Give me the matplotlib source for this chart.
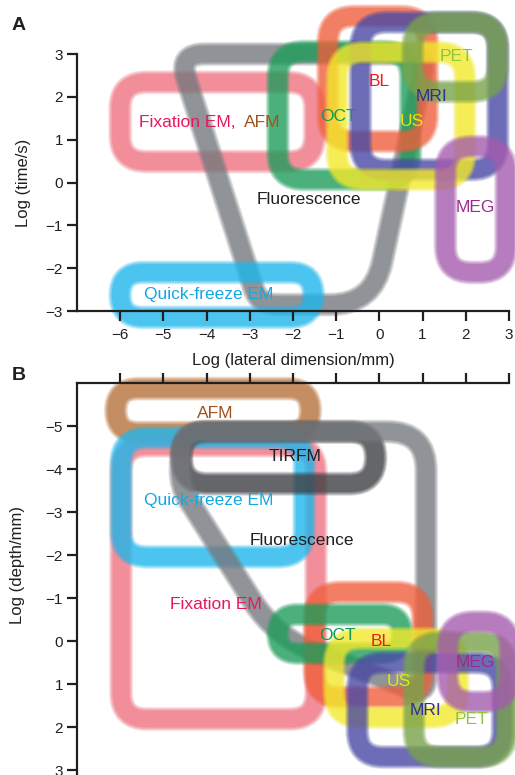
import matplotlib.pyplot as plt
from matplotlib.path import Path
from matplotlib.patches import PathPatch
import numpy as np

plt.rcParams['font.family'] = ['Liberation Sans', 'DejaVu Sans']
plt.rcParams['axes.unicode_minus'] = True

# ---- Panel A: log lateral dimension (mm) vs log time (s)
a_names = ['Fixation EM', 'Quick-freeze EM', 'OCT', 'BL', 'MRI', 'US', 'PET', 'MEG']
a_x0 = [-6.0, -6.0, -2.35, -1.19, -0.44, -0.98, 0.77, 1.53]
a_x1 = [-1.5, -1.53, 0.72, 1.11, 2.74, 1.98, 2.74, 2.93]
a_y0 = [0.49, -3.15, 0.07, 0.96, 0.30, 0.07, 2.12, -2.10]
a_y1 = [2.34, -2.10, 3.06, 3.88, 3.74, 3.04, 3.74, 0.84]

# fluorescence outline in panel A (corner points)
fl_a_x = [-4.65, 1.1, -0.15, -2.79]
fl_a_y = [3.0, 3.0, -2.85, -2.85]

# ---- Panel B: log lateral dimension (mm) vs log depth (mm)
b_names = ['AFM', 'Fixation EM', 'Quick-freeze EM', 'TIRFM', 'BL', 'OCT', 'US', 'MRI', 'PET', 'MEG']
b_x0 = [-6.1, -5.98, -5.98, -4.58, -1.51, -2.35, -1.05, -0.51, 0.80, 1.58]
b_x1 = [-1.6, -1.47, -1.74, -0.09, 1.00, 0.52, 1.82, 2.85, 2.95, 3.02]
b_y0 = [-5.87, -4.54, -4.73, -4.87, -1.14, -0.62, -0.06, 0.50, 0.02, -0.45]
b_y1 = [-4.85, 1.81, -1.96, -3.66, 1.30, 0.28, 1.77, 2.69, 2.69, 1.41]

fl_b_x = [-4.58, 1.08, 1.08, -2.41, -4.62]
fl_b_y = [-4.87, -4.87, 1.25, -0.10, -3.60]

# label positions (data units)
a_lab = {'Fixation EM,': (-5.56, 1.40), 'AFM': (-2.28, 1.40), 'BL': (0.0, 2.36),
         'PET': (1.79, 2.94), 'MRI': (1.21, 2.0), 'OCT': (-0.95, 1.54), 'US': (0.74, 1.43),
         'Fluorescence': (-1.63, -0.40), 'MEG': (2.21, -0.58), 'Quick-freeze EM': (-3.95, -2.62)}
b_lab = {'AFM': (-3.81, -5.29), 'TIRFM': (-1.95, -4.29), 'Quick-freeze EM': (-3.95, -3.26),
         'Fluorescence': (-1.79, -2.33), 'Fixation EM': (-3.79, -0.85), 'OCT': (-0.98, -0.13),
         'BL': (0.05, 0.0), 'US': (0.44, 0.94), 'MEG': (2.21, 0.5), 'MRI': (1.07, 1.6),
         'PET': (2.14, 1.83)}

stroke = {'Fixation EM': '#ef7482', 'AFM': '#b8733b', 'Quick-freeze EM': '#1fb8ec',
          'Fluorescence': '#76797e', 'TIRFM': '#3f4145', 'OCT': '#1f9e5c', 'BL': '#f0603c',
          'MRI': '#4a4aa6', 'US': '#f4ea2c', 'PET': '#7aa44c', 'MEG': '#a65cae'}
text_col = {'Fixation EM,': '#e8175d', 'Fixation EM': '#e8175d', 'AFM': '#a0521d',
            'Quick-freeze EM': '#12a9e2', 'Fluorescence': '#231f20', 'TIRFM': '#231f20',
            'OCT': '#12994f', 'BL': '#ec1c24', 'MRI': '#2e3192', 'US': '#ede500',
            'PET': '#8dc63f', 'MEG': '#9e2a8e'}


def rounded_path(xs, ys, rs):
    pts = np.column_stack([xs, ys]).astype(float)
    n = len(pts)
    verts, codes = [], []
    for i in range(n):
        v, p, q = pts[i], pts[i - 1], pts[(i + 1) % n]
        dp, dq = p - v, q - v
        lp, lq = np.hypot(*dp), np.hypot(*dq)
        r = min(rs[i], 0.5 * lp, 0.5 * lq)
        a = v + r * dp / lp
        b = v + r * dq / lq
        verts += [a, v, b]
        codes += [Path.MOVETO if i == 0 else Path.LINETO, Path.CURVE3, Path.CURVE3]
    verts += [verts[0], verts[0]]
    codes += [Path.LINETO, Path.CLOSEPOLY]
    return Path(verts, codes)


# soft edged thick stroke: a few widening layers of low alpha around a solid core
blur = [(17.5, 0.14), (16.5, 0.16), (15.5, 0.18), (14.5, 0.2), (13.5, 0.22), (12, 0.45)]


def draw(ax, xs, ys, rs, color):
    path = rounded_path(xs, ys, rs)
    for lw, al in blur:
        ax.add_patch(PathPatch(path, facecolor='none', edgecolor=color, lw=lw,
                               alpha=al, clip_on=False, joinstyle='round'))


def draw_box(ax, x0, x1, y0, y1, color):
    r = min(0.6, 0.5 * abs(x1 - x0), 0.5 * abs(y1 - y0))
    draw(ax, [x0, x1, x1, x0], [y0, y0, y1, y1], [r] * 4, color)


def style(ax):
    for s in ax.spines.values():
        s.set_linewidth(1.6)
        s.set_color('#231f20')
    ax.tick_params(direction='out', length=7, width=1.6, color='#231f20',
                   labelcolor='#231f20', labelsize=11, pad=3)


fig = plt.figure(figsize=(5.15, 7.75), dpi=100)

# ---------- A
ax = fig.add_axes([77 / 515, 1 - 311 / 775, 432 / 515, 257 / 775])
ax.set_xlim(-7.0, 3.0)
ax.set_ylim(-3, 3)
order_a = ['Fixation EM', 'Fluorescence', 'Quick-freeze EM', 'OCT', 'BL', 'MRI', 'US', 'PET', 'MEG']
for nm in order_a:
    if nm == 'Fluorescence':
        draw(ax, fl_a_x, fl_a_y, [0.6, 0.5, 1.0, 0.4], stroke[nm])
    else:
        i = a_names.index(nm)
        draw_box(ax, a_x0[i], a_x1[i], a_y0[i], a_y1[i], stroke[nm])
for t, (x, y) in a_lab.items():
    ha = 'left' if t == 'Fixation EM,' else ('right' if t == 'AFM' else 'center')
    ax.text(x, y, t, color=text_col[t], fontsize=12.5, ha=ha, va='center', zorder=5)
ax.spines['top'].set_visible(False)
ax.spines['right'].set_visible(False)
ax.set_xticks(range(-6, 4))
ax.set_yticks(range(-3, 4))
style(ax)
ax.tick_params(axis='x', pad=5)
fig.text(293 / 515, 1 - 360 / 775, 'Log (lateral dimension/mm)', ha='center', va='center',
         fontsize=12, color='#231f20')
fig.text(24 / 515, 1 - 183 / 775, 'Log (time/s)', rotation=90, ha='center', va='center',
         fontsize=12, color='#231f20')
fig.text(19 / 515, 1 - 26 / 775, 'A', ha='center', va='center', fontsize=14,
         fontweight='bold', color='#231f20')

# ---------- B
bx = fig.add_axes([77 / 515, 0, 432 / 515, 392 / 775])
bx.set_xlim(-7.0, 3.0)
bx.set_ylim(3.11, -6.0)
order_b = ['AFM', 'Fixation EM', 'Quick-freeze EM', 'TIRFM', 'Fluorescence', 'BL', 'OCT',
           'US', 'MRI', 'PET', 'MEG']
for nm in order_b:
    if nm == 'Fluorescence':
        draw(bx, fl_b_x, fl_b_y, [0.5, 0.9, 0.4, 1.0, 0.4], stroke[nm])
    else:
        i = b_names.index(nm)
        draw_box(bx, b_x0[i], b_x1[i], b_y0[i], b_y1[i], stroke[nm])
for t, (x, y) in b_lab.items():
    bx.text(x, y, t, color=text_col[t], fontsize=12.5, ha='center', va='center', zorder=5)
bx.spines['bottom'].set_visible(False)
bx.spines['right'].set_visible(False)
bx.xaxis.tick_top()
bx.set_xticks(range(-6, 4))
bx.set_xticklabels([])
bx.set_yticks(range(-5, 4))
style(bx)
fig.text(18 / 515, 1 - 565 / 775, 'Log (depth/mm)', rotation=90, ha='center', va='center',
         fontsize=12, color='#231f20')
fig.text(19 / 515, 1 - 375 / 775, 'B', ha='center', va='center', fontsize=14,
         fontweight='bold', color='#231f20')

fig.savefig('out.png', dpi=100)
